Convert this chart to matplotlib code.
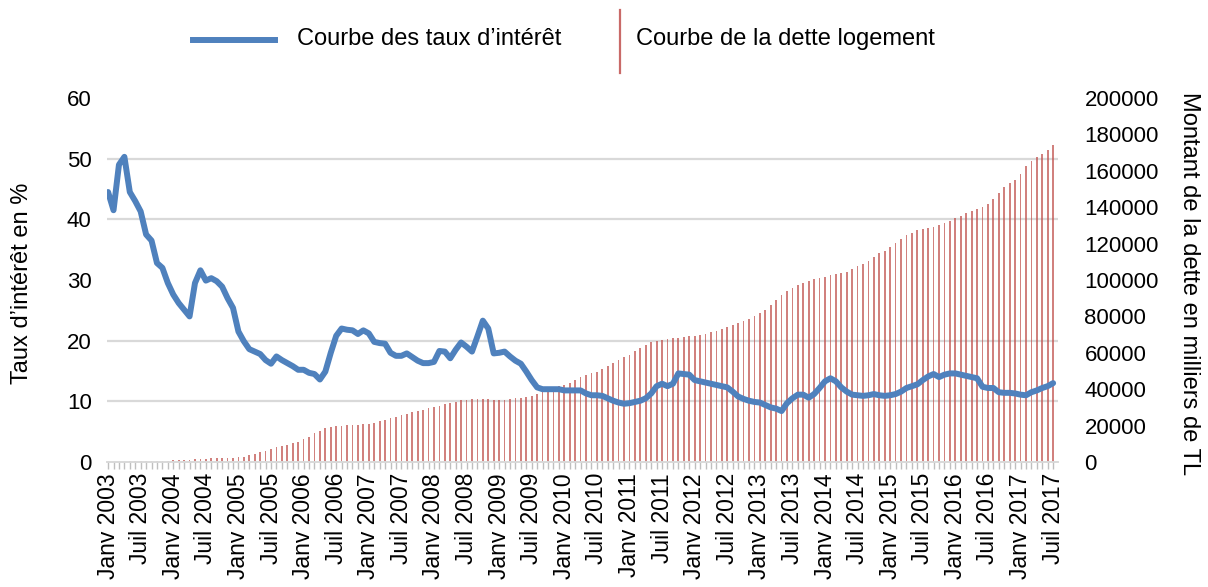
import matplotlib
matplotlib.use("Agg")
import matplotlib.pyplot as plt
from matplotlib.lines import Line2D
import numpy as np

plt.rcParams["font.family"] = ["Liberation Sans", "DejaVu Sans"]

# Monthly interest rate (%), Jan 2003 - Jul 2017
rate = [
    44.5, 41.5, 49.0, 50.3, 44.5, 43.0, 41.3, 37.5, 36.5, 32.8,
    32.0, 29.5, 27.6, 26.2, 25.1, 24.0, 29.5, 31.6, 29.9, 30.3,
    29.8, 28.9, 27.0, 25.4, 21.5, 19.9, 18.6, 18.2, 17.8, 16.8,
    16.2, 17.4, 16.8, 16.3, 15.8, 15.2, 15.2, 14.7, 14.5, 13.6,
    14.9, 18.0, 20.8, 22.0, 21.8, 21.7, 21.1, 21.7, 21.2, 19.8,
    19.6, 19.5, 18.0, 17.5, 17.5, 17.9, 17.3, 16.7, 16.3, 16.3,
    16.5, 18.3, 18.2, 17.1, 18.5, 19.7, 19.0, 18.2, 20.7, 23.3,
    22.0, 17.9, 18.0, 18.2, 17.4, 16.7, 16.2, 14.9, 13.5, 12.3,
    12.0, 12.0, 12.0, 12.0, 11.8, 11.8, 11.8, 11.8, 11.3, 11.0,
    11.0, 10.9, 10.5, 10.1, 9.8, 9.6, 9.7, 9.9, 10.1, 10.5,
    11.3, 12.5, 12.9, 12.5, 12.9, 14.6, 14.5, 14.4, 13.5, 13.3,
    13.1, 12.9, 12.7, 12.5, 12.3, 11.6, 10.8, 10.4, 10.1, 9.9,
    9.8, 9.4, 9.0, 8.8, 8.4, 9.7, 10.5, 11.1, 11.1, 10.6,
    11.2, 12.2, 13.3, 13.8, 13.3, 12.3, 11.6, 11.1, 11.0, 10.9,
    11.0, 11.2, 11.0, 10.9, 11.0, 11.2, 11.6, 12.2, 12.5, 12.8,
    13.5, 14.1, 14.5, 14.0, 14.4, 14.6, 14.6, 14.4, 14.2, 14.0,
    13.8, 12.4, 12.2, 12.2, 11.5, 11.4, 11.4, 11.3, 11.1, 11.0,
    11.5, 11.8, 12.2, 12.5, 13.0,
]

# Monthly housing debt (thousands of TL), Jan 2003 - Jul 2017
debt = [
    100, 150, 200, 250, 300, 350, 400, 450, 500, 600,
    700, 800, 900, 1000, 1100, 1200, 1400, 1600, 1800, 2000,
    2100, 2200, 2300, 2400, 2600, 3000, 3600, 4400, 5300, 6200,
    7000, 8000, 8800, 9600, 10400, 11200, 12400, 14000, 15800, 17200,
    18900, 19500, 19800, 20000, 20200, 20400, 20600, 20800, 21000, 21600,
    22400, 23200, 24200, 25000, 25800, 26600, 27300, 28000, 28800, 29500,
    30200, 31000, 31700, 32300, 33200, 33900, 34300, 34500, 34600, 34500,
    34400, 34100, 33900, 34100, 34400, 34900, 35400, 35900, 36500, 37200,
    38400, 39600, 40600, 41500, 42400, 43600, 45000, 46500, 47800, 48700,
    49700, 51000, 52800, 54500, 56000, 57500, 59000, 60800, 62500, 64300,
    65800, 66600, 67200, 67600, 68000, 68300, 68600, 69000, 69500, 69900,
    70500, 71200, 72000, 73000, 74000, 75200, 76200, 77300, 78500, 80000,
    81800, 83600, 86000, 88800, 92000, 94100, 95800, 97200, 98200, 99300,
    100400, 101200, 101900, 102600, 103100, 103600, 104600, 106000, 107600, 109000,
    110600, 112600, 114600, 116200, 118000, 120100, 122500, 124500, 126000, 127200,
    128000, 128600, 129300, 130200, 131500, 132600, 133800, 135200, 136800, 138000,
    139000, 140200, 142000, 144500, 147800, 151000, 153200, 155000, 158500, 162500,
    165200, 167500, 169400, 171600, 174200,
]

tick_labels = [
    "Janv 2003", "Juil 2003", "Janv 2004", "Juil 2004", "Janv 2005", "Juil 2005",
    "Janv 2006", "Juil 2006", "Janv 2007", "Juil 2007", "Janv 2008", "Juil 2008",
    "Janv 2009", "Juil 2009", "Janv 2010", "Juil 2010", "Janv 2011", "Juil 2011",
    "Janv 2012", "Juil 2012", "Janv 2013", "Juil 2013", "Janv 2014", "Juil 2014",
    "Janv 2015", "Juil 2015", "Janv 2016", "Juil 2016", "Janv 2017", "Juil 2017",
]
label_rate = "Courbe des taux d\u2019intérêt"
label_debt = "Courbe de la dette logement"

BLUE = "#4F81BD"
RED = "#C0504D"
GRID = "#D9D9D9"

W, H = 1208, 587
fig = plt.figure(figsize=(W / 100, H / 100), dpi=100)
ax = fig.add_axes([107 / W, 1 - 462 / H, 951 / W, 364 / H])
ax2 = ax.twinx()

x = np.arange(len(rate))

# debt bars on the secondary axis, drawn behind the rate curve
ax2.bar(x, debt, width=0.32, color=RED, alpha=0.72, linewidth=0, zorder=2)
ax2.set_ylim(0, 200000)
ax2.set_yticks(np.arange(0, 200001, 20000))
ax2.set_yticks(np.linspace(0, 200000, 7), minor=True)
ax2.grid(which="minor", axis="y", color=GRID, linewidth=1.6, zorder=0)
ax2.set_axisbelow(True)
ax2.tick_params(axis="y", which="both", length=0, labelsize=16, pad=19)
ax2.set_ylabel("Montant de la dette en milliers de TL", fontsize=17,
               rotation=270, va="bottom")
ax2.yaxis.set_label_coords(1.126, 0.49)

# interest rate curve on the primary axis
ax.set_zorder(ax2.get_zorder() + 1)
ax.patch.set_visible(False)
ax.plot(x, rate, color=BLUE, linewidth=4.3, solid_joinstyle="round",
        solid_capstyle="round", zorder=3)
ax.set_ylim(0, 60)
ax.set_yticks(np.arange(0, 61, 10))
ax.tick_params(axis="y", length=0, labelsize=16, pad=11)
ax.set_ylabel("Taux d\u2019intérêt en %", fontsize=17)
ax.yaxis.set_label_coords(-0.078, 0.49)

ax.set_xlim(-0.2, 174.9)
ax.set_xticks(np.arange(0, len(rate), 6))
ax.set_xticks(x, minor=True)
ax.set_xticklabels(tick_labels, rotation=90, fontsize=16.5)
ax.tick_params(axis="x", which="both", length=5, width=1, color="#BFBFBF", pad=3)

for a in (ax, ax2):
    for side in ("top", "left", "right"):
        a.spines[side].set_visible(False)
    a.spines["bottom"].set_color(GRID)
    a.spines["bottom"].set_linewidth(1.2)

# legend
fig.add_artist(Line2D([193 / W, 275 / W], [1 - 40 / H, 1 - 40 / H],
                      color=BLUE, linewidth=4.3, transform=fig.transFigure))
fig.text(297 / W, 1 - 39 / H, label_rate, fontsize=17, va="center", ha="left")
fig.add_artist(Line2D([620 / W, 620 / W], [1 - 10 / H, 1 - 73 / H],
                      color=RED, alpha=0.85, linewidth=1.6,
                      transform=fig.transFigure))
fig.text(636 / W, 1 - 39 / H, label_debt, fontsize=17, va="center", ha="left")

fig.savefig("out.png", dpi=100)
